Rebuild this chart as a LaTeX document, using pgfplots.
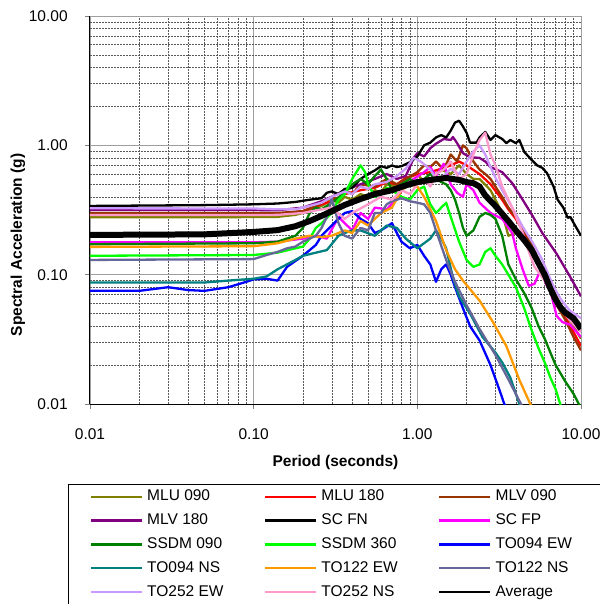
\documentclass[border=0pt]{standalone}
\usepackage{pgfplots}
\pgfplotsset{compat=1.18}
\usepackage{fontspec}
\setmainfont{Liberation Sans}

\definecolor{mluolive}{RGB}{128,128,0}
\definecolor{mlured}{RGB}{255,0,0}
\definecolor{mlvbrown}{RGB}{153,51,0}
\definecolor{mlvpurple}{RGB}{128,0,128}
\definecolor{scfp}{RGB}{255,0,255}
\definecolor{ssdmgreen}{RGB}{0,128,0}
\definecolor{ssdmlime}{RGB}{0,255,0}
\definecolor{toblue}{RGB}{0,0,255}
\definecolor{toteal}{RGB}{0,128,128}
\definecolor{toorange}{RGB}{255,153,0}
\definecolor{toslate}{RGB}{102,102,153}
\definecolor{tolav}{RGB}{204,153,255}
\definecolor{topink}{RGB}{255,153,204}

\newcommand{\entA}[1]{\makebox[112bp][l]{#1}}
\newcommand{\entC}[1]{\makebox[82bp][l]{#1}}

\begin{document}
\fontsize{15.5bp}{18bp}\selectfont
\begin{tikzpicture}
\useasboundingbox (0,0) rectangle (600bp,-604bp);
\begin{axis}[
  at={(90bp,-16bp)}, anchor=north west,
  scale only axis, width=491bp, height=388bp,
  xmode=log, ymode=log,
  xmin=0.01, xmax=10, ymin=0.01, ymax=10,
  axis x line*=bottom, axis y line*=left,
  axis line style={black, line width=1bp, -},
  xtick={0.01,0.1,1,10}, xticklabels={0.01,0.10,1.00,10.00},
  ytick={0.01,0.1,1,10}, yticklabels={0.01,0.10,1.00,10.00},
  tick align=outside, major tick length=5bp, minor tick length=0pt,
  tick style={gray, line width=0.8bp},
  grid=both,
  major grid style={gray!75, line width=0.9bp},
  minor grid style={black!65, dash pattern=on 2bp off 1bp, line width=0.5bp},
  xticklabel style={yshift=-14bp},
  yticklabel style={xshift=-12bp},
  xlabel={\textbf{Period (seconds)}},
  ylabel={\textbf{Spectral Acceleration (g)}},
  xlabel style={at={(axis description cs:0.5,-0.1495)}, anchor=center},
  ylabel style={at={(axis description cs:-0.1466,0.41)}, anchor=center},
  no markers,
  every axis plot/.append style={line width=2.3bp, line join=round},
  legend columns=3,
  legend cell align=left,
  legend image code/.code={\draw[#1, line width=2.2bp] (0bp,0bp) -- (51bp,0bp);},
  legend style={at={(-0.0448,-0.206)}, anchor=north west,
    draw=black, line width=1.5bp, inner xsep=21bp, inner ysep=4.5bp,
    row sep=8.9bp,
    nodes={inner xsep=2bp, inner ysep=0bp, text height=11.5bp, text depth=3.5bp},
    /tikz/every odd column/.append style={column sep=2.3bp},
    /tikz/every even column/.append style={column sep=2.7bp}},
]
% MLU 090
\addplot[mluolive] coordinates {(0.01,0.278)(0.05,0.278)(0.1,0.279)(0.14,0.28)(0.18,0.29)(0.2,0.3)(0.24,0.33)(0.26,0.34)(0.3,0.38)(0.33,0.36)(0.36,0.4)(0.4,0.38)(0.45,0.42)(0.5,0.4)(0.55,0.45)(0.6,0.43)(0.65,0.5)(0.75,0.48)(0.85,0.55)(1.0,0.6)(1.1,0.52)(1.2,0.55)(1.4,0.65)(1.6,0.6)(1.8,0.7)(2.0,0.6)(2.2,0.55)(2.4,0.55)(2.8,0.45)(3.0,0.38)(3.3,0.3)(3.6,0.2)(4.0,0.21)(4.5,0.19)(5.0,0.16)(5.5,0.13)(6.0,0.1)(7.0,0.07)(8.0,0.05)(9.0,0.04)(10,0.032)};
\addlegendentry{\entA{MLU 090}}
% MLU 180
\addplot[mlured] coordinates {(0.01,0.292)(0.1,0.293)(0.14,0.295)(0.2,0.31)(0.26,0.35)(0.3,0.37)(0.36,0.42)(0.45,0.45)(0.55,0.47)(0.65,0.52)(0.75,0.5)(0.85,0.56)(1.0,0.6)(1.2,0.62)(1.4,0.66)(1.6,0.7)(1.8,0.75)(2.0,0.7)(2.4,0.6)(2.8,0.5)(3.3,0.38)(3.6,0.32)(4.0,0.27)(4.5,0.21)(5.0,0.165)(5.5,0.13)(6.0,0.1)(7.0,0.065)(8.0,0.047)(9.0,0.036)(10,0.028)};
\addlegendentry{\entA{MLU 180}}
% MLV 090
\addplot[mlvbrown] coordinates {(0.01,0.30)(0.1,0.30)(0.14,0.30)(0.2,0.31)(0.24,0.34)(0.26,0.36)(0.3,0.4)(0.33,0.38)(0.36,0.45)(0.4,0.42)(0.45,0.5)(0.55,0.48)(0.65,0.55)(0.75,0.5)(0.85,0.55)(1.0,0.62)(1.1,0.7)(1.2,0.68)(1.3,0.75)(1.45,0.65)(1.6,0.85)(1.75,0.75)(1.9,1.0)(2.0,0.95)(2.2,0.75)(2.4,0.65)(2.6,0.6)(2.8,0.55)(3.0,0.48)(3.3,0.4)(3.6,0.33)(4.0,0.28)(4.5,0.22)(5.0,0.17)(5.5,0.13)(6.0,0.1)(6.5,0.075)(7.0,0.06)(8.0,0.045)(9.0,0.033)(10,0.026)};
\addlegendentry{\entC{MLV 090}}
% MLV 180
\addplot[mlvpurple] coordinates {(0.01,0.316)(0.1,0.316)(0.14,0.315)(0.2,0.33)(0.26,0.37)(0.3,0.4)(0.36,0.45)(0.45,0.5)(0.55,0.55)(0.65,0.6)(0.75,0.55)(0.85,0.58)(0.9,0.68)(0.95,0.8)(1.0,0.87)(1.1,0.82)(1.2,0.95)(1.3,1.03)(1.45,1.12)(1.6,1.1)(1.65,1.16)(1.75,1.04)(1.9,0.87)(2.1,0.81)(2.4,0.8)(2.6,0.75)(2.8,0.68)(3.3,0.62)(3.8,0.51)(4.4,0.38)(5.1,0.28)(5.8,0.21)(7.1,0.145)(8.6,0.096)(10,0.068)};
\addlegendentry{\entA{MLV 180}}
% SC FN
\addplot[black] coordinates {(0.01,0.34)(0.05,0.345)(0.1,0.35)(0.14,0.355)(0.18,0.365)(0.22,0.38)(0.26,0.39)(0.28,0.43)(0.3,0.44)(0.33,0.42)(0.36,0.46)(0.4,0.47)(0.45,0.55)(0.5,0.6)(0.55,0.64)(0.6,0.69)(0.65,0.67)(0.7,0.7)(0.75,0.68)(0.8,0.69)(0.9,0.74)(1.0,0.82)(1.1,1.0)(1.2,1.05)(1.3,1.15)(1.4,1.2)(1.5,1.15)(1.6,1.3)(1.7,1.5)(1.8,1.55)(1.9,1.4)(2.0,1.25)(2.1,1.05)(2.3,1.05)(2.4,1.15)(2.6,1.27)(2.8,1.1)(3.0,1.2)(3.3,1.12)(3.5,1.04)(3.7,1.1)(4.0,1.04)(4.2,1.1)(4.5,0.89)(5.0,0.77)(5.4,0.7)(5.8,0.67)(6.2,0.61)(6.8,0.48)(7.2,0.38)(7.8,0.33)(8.3,0.275)(8.6,0.28)(9.2,0.24)(10,0.2)};
\addlegendentry{\entA{SC FN}}
% SC FP
\addplot[scfp] coordinates {(0.01,0.178)(0.1,0.178)(0.14,0.18)(0.2,0.19)(0.24,0.2)(0.28,0.19)(0.33,0.28)(0.36,0.25)(0.4,0.22)(0.45,0.3)(0.5,0.27)(0.55,0.33)(0.65,0.32)(0.75,0.39)(0.85,0.5)(0.95,0.55)(1.1,0.62)(1.2,0.68)(1.3,0.58)(1.45,0.72)(1.6,0.5)(1.75,0.43)(1.9,0.4)(2.0,0.5)(2.2,0.45)(2.4,0.36)(2.8,0.3)(3.3,0.27)(3.8,0.21)(4.0,0.16)(4.4,0.11)(4.8,0.082)(5.2,0.085)(5.5,0.1)(5.7,0.11)(6.1,0.085)(6.5,0.075)(7.1,0.048)(7.7,0.043)(8.6,0.041)(10,0.033)};
\addlegendentry{\entC{SC FP}}
% SSDM 090
\addplot[ssdmgreen] coordinates {(0.01,0.172)(0.1,0.175)(0.14,0.18)(0.18,0.2)(0.2,0.23)(0.22,0.3)(0.24,0.33)(0.26,0.32)(0.3,0.36)(0.36,0.43)(0.4,0.5)(0.45,0.55)(0.5,0.5)(0.55,0.58)(0.6,0.65)(0.65,0.55)(0.7,0.45)(0.8,0.5)(0.9,0.55)(1.0,0.5)(1.1,0.55)(1.2,0.6)(1.3,0.55)(1.4,0.52)(1.5,0.5)(1.6,0.45)(1.7,0.38)(1.8,0.3)(1.9,0.23)(2.0,0.2)(2.2,0.22)(2.4,0.28)(2.6,0.3)(2.8,0.29)(3.0,0.27)(3.3,0.2)(3.6,0.12)(4.0,0.092)(4.5,0.072)(5.0,0.055)(5.5,0.04)(6.0,0.032)(6.5,0.025)(7.0,0.02)(8.0,0.015)(9.0,0.012)(9.7,0.01)(10,0.0095)};
\addlegendentry{\entA{SSDM 090}}
% SSDM 360
\addplot[ssdmlime] coordinates {(0.01,0.14)(0.1,0.142)(0.14,0.148)(0.18,0.16)(0.2,0.165)(0.22,0.19)(0.24,0.23)(0.26,0.25)(0.3,0.3)(0.33,0.38)(0.36,0.42)(0.4,0.55)(0.45,0.7)(0.48,0.62)(0.5,0.5)(0.55,0.4)(0.6,0.42)(0.65,0.47)(0.7,0.45)(0.8,0.4)(0.9,0.38)(1.0,0.45)(1.1,0.48)(1.2,0.35)(1.3,0.3)(1.4,0.33)(1.5,0.36)(1.6,0.28)(1.8,0.18)(2.0,0.13)(2.2,0.115)(2.4,0.12)(2.6,0.15)(2.8,0.16)(3.0,0.14)(3.3,0.12)(3.6,0.1)(4.0,0.08)(4.5,0.055)(5.0,0.037)(5.5,0.027)(6.0,0.021)(6.5,0.016)(7.0,0.013)(7.5,0.0098)(8.0,0.008)};
\addlegendentry{\entA{SSDM 360}}
% TO094 EW
\addplot[toblue] coordinates {(0.01,0.075)(0.02,0.075)(0.03,0.08)(0.04,0.076)(0.05,0.075)(0.07,0.08)(0.09,0.088)(0.1,0.092)(0.12,0.093)(0.14,0.09)(0.16,0.115)(0.2,0.14)(0.24,0.17)(0.26,0.2)(0.3,0.24)(0.33,0.27)(0.36,0.3)(0.4,0.31)(0.45,0.27)(0.5,0.25)(0.55,0.21)(0.6,0.22)(0.7,0.25)(0.75,0.21)(0.8,0.18)(0.9,0.16)(1.0,0.17)(1.1,0.14)(1.2,0.12)(1.3,0.088)(1.4,0.11)(1.5,0.12)(1.6,0.1)(1.7,0.08)(1.9,0.055)(2.1,0.04)(2.4,0.031)(2.8,0.02)(3.2,0.0125)(3.4,0.01)(3.6,0.009)};
\addlegendentry{\entC{TO094 EW}}
% TO094 NS
\addplot[toteal] coordinates {(0.01,0.087)(0.05,0.087)(0.07,0.09)(0.1,0.093)(0.12,0.097)(0.14,0.11)(0.18,0.13)(0.2,0.14)(0.24,0.148)(0.28,0.155)(0.33,0.2)(0.36,0.21)(0.4,0.22)(0.45,0.22)(0.55,0.2)(0.65,0.24)(0.75,0.23)(0.85,0.19)(1.0,0.16)(1.2,0.19)(1.3,0.22)(1.4,0.19)(1.5,0.16)(1.65,0.095)(1.8,0.068)(2.1,0.05)(2.5,0.033)(3.0,0.025)(3.3,0.021)(3.7,0.016)(4.0,0.012)(4.2,0.01)(4.4,0.009)};
\addlegendentry{\entA{TO094 NS}}
% TO122 EW
\addplot[toorange] coordinates {(0.01,0.164)(0.1,0.166)(0.14,0.175)(0.18,0.19)(0.22,0.2)(0.26,0.195)(0.3,0.2)(0.36,0.22)(0.4,0.21)(0.45,0.26)(0.5,0.24)(0.6,0.3)(0.7,0.33)(0.8,0.45)(0.9,0.5)(1.0,0.48)(1.1,0.4)(1.2,0.32)(1.3,0.26)(1.5,0.155)(1.7,0.11)(1.9,0.09)(2.4,0.063)(2.9,0.043)(3.5,0.028)(4.2,0.0154)(4.9,0.01)(5.2,0.009)};
\addlegendentry{\entA{TO122 EW}}
% TO122 NS
\addplot[toslate] coordinates {(0.01,0.13)(0.1,0.132)(0.12,0.142)(0.14,0.15)(0.16,0.16)(0.18,0.165)(0.2,0.18)(0.22,0.19)(0.24,0.2)(0.26,0.23)(0.28,0.28)(0.3,0.39)(0.33,0.25)(0.36,0.2)(0.4,0.19)(0.45,0.23)(0.5,0.22)(0.55,0.3)(0.6,0.3)(0.65,0.35)(0.7,0.37)(0.8,0.39)(0.9,0.37)(1.0,0.36)(1.1,0.35)(1.2,0.3)(1.3,0.22)(1.5,0.13)(1.7,0.088)(2.0,0.058)(2.4,0.038)(3.0,0.024)(3.6,0.0155)(4.3,0.01)(4.5,0.009)};
\addlegendentry{\entC{TO122 NS}}
% TO252 EW
\addplot[tolav] coordinates {(0.01,0.326)(0.1,0.325)(0.14,0.32)(0.18,0.32)(0.22,0.34)(0.26,0.36)(0.3,0.4)(0.33,0.42)(0.36,0.44)(0.4,0.42)(0.45,0.48)(0.5,0.46)(0.55,0.5)(0.65,0.52)(0.75,0.58)(0.85,0.66)(0.95,0.8)(1.05,0.75)(1.2,0.65)(1.3,0.55)(1.45,0.58)(1.6,0.66)(1.8,0.6)(2.0,0.75)(2.2,0.9)(2.4,1.0)(2.6,0.85)(2.8,0.68)(3.05,0.54)(3.3,0.45)(3.8,0.33)(4.4,0.235)(5.1,0.175)(5.8,0.13)(6.8,0.081)(7.5,0.065)(8.5,0.053)(10,0.046)};
\addlegendentry{\entA{TO252 EW}}
% TO252 NS
\addplot[topink] coordinates {(0.01,0.289)(0.1,0.289)(0.14,0.29)(0.2,0.3)(0.26,0.32)(0.3,0.33)(0.36,0.27)(0.4,0.3)(0.5,0.35)(0.6,0.4)(0.7,0.38)(0.8,0.45)(0.9,0.42)(1.0,0.5)(1.1,0.55)(1.2,0.48)(1.3,0.6)(1.45,0.65)(1.6,0.75)(1.8,0.55)(2.0,0.6)(2.2,0.85)(2.4,1.1)(2.6,1.25)(2.8,0.85)(3.0,0.7)(3.3,0.48)(3.8,0.33)(4.4,0.21)(4.9,0.14)(5.2,0.115)(6.0,0.09)(6.5,0.075)(7.5,0.055)(8.5,0.045)(10,0.036)};
\addlegendentry{\entA{TO252 NS}}
% Average of all records
\addplot[black, line width=6bp, forget plot] coordinates {(0.01,0.203)(0.05,0.205)(0.1,0.214)(0.14,0.221)(0.18,0.237)(0.22,0.26)(0.26,0.285)(0.3,0.31)(0.36,0.346)(0.45,0.385)(0.55,0.42)(0.7,0.45)(0.85,0.49)(1.0,0.52)(1.2,0.54)(1.5,0.56)(1.8,0.54)(2.0,0.52)(2.2,0.51)(2.4,0.48)(2.6,0.41)(3.0,0.34)(3.6,0.26)(4.0,0.22)(4.5,0.185)(5.0,0.155)(5.5,0.123)(6.0,0.1)(6.5,0.078)(7.0,0.064)(7.5,0.056)(8.0,0.051)(9.0,0.046)(9.5,0.042)(10,0.038)};
\addlegendimage{black}
\addlegendentry{\entC{Average}}
\end{axis}
\end{tikzpicture}
\end{document}
